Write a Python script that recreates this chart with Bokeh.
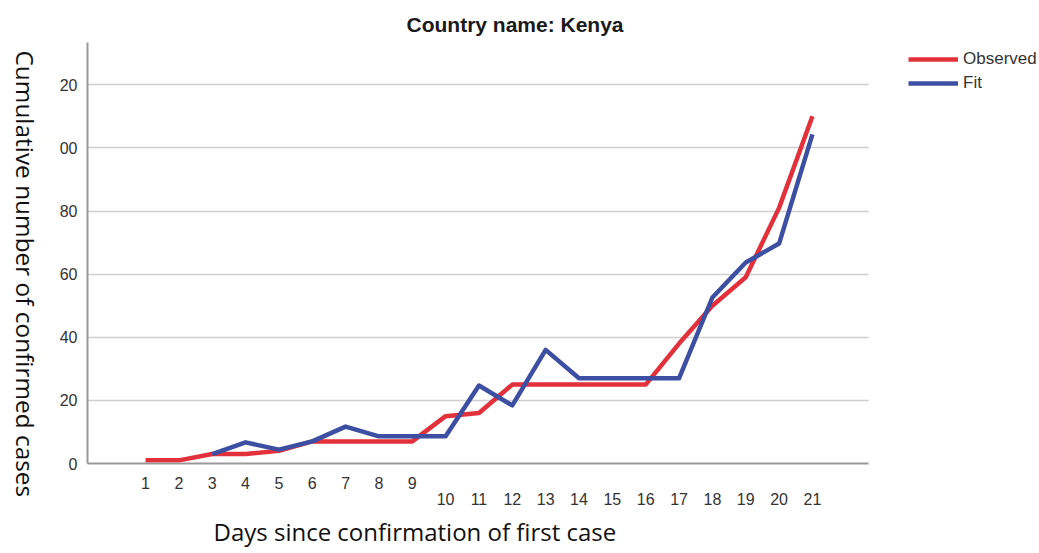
from bokeh.plotting import figure
from bokeh.layouts import row
from bokeh.models import LinearAxis, FixedTicker, Title, Legend, LegendItem, Range1d
from bokeh.embed import file_html
from bokeh.resources import INLINE

# ---- data ----
days = list(range(1, 22))
observed = [1, 1, 3, 3, 4, 7, 7, 7, 7, 15, 16, 25, 25, 25, 25, 25, 38, 50, 59, 81, 110]
fit = [float("nan"), float("nan"), 3, 6.7, 4.4, 7, 11.7, 8.6, 8.6, 8.6, 24.7, 18.4,
       36, 27, 27, 27, 27, 52.6, 63.7, 69.7, 104.3]
y_ticks = [0, 20, 40, 60, 80, 100, 120]
y_tick_labels = ["0", "20", "40", "60", "80", "00", "20"]
x_tick_labels = [str(d) for d in days]
title_text = "Country name: Kenya"
x_label = "Days since confirmation of first case"
y_label = "Cumulative number of confirmed cases"
series_names = ["Observed", "Fit"]

RED = "#e2313a"
BLUE = "#3c4fa3"
TICK_FONT = "Liberation Sans"
LABEL_FONT = "Open Sans"
W_TOTAL, H_TOTAL = 1039, 553
W_LEFT = 43
X_AXIS_START, X_AXIS_END = -0.74, 22.68   # extent of the drawn axis
X_VIEW_END = 27.81                        # room on the right for the legend

# ---- narrow panel holding the vertical y-axis title (reads top to bottom) ----
lf = figure(width=W_LEFT, height=H_TOTAL, output_backend="svg", toolbar_location=None,
            x_axis_location=None, y_axis_location=None,
            min_border_left=0, min_border_right=0, min_border_top=42, min_border_bottom=90)
lf.outline_line_color = None
lf.grid.visible = False
lf.add_layout(Title(text=y_label, align="left", offset=8, text_font=LABEL_FONT,
                    text_font_size="24.4px", text_font_style="normal",
                    text_color="#111111", standoff=0), "right")

# ---- main chart ----
p = figure(width=W_TOTAL - W_LEFT, height=H_TOTAL, output_backend="svg",
           toolbar_location=None,
           x_range=Range1d(X_AXIS_START, X_VIEW_END), y_range=Range1d(0, 133.4),
           min_border_left=87 - W_LEFT, min_border_right=0, min_border_top=42,
           min_border_bottom=90)
p.outline_line_color = None
p.background_fill_color = "white"
p.xgrid.visible = False
p.ygrid.ticker = FixedTicker(ticks=y_ticks[1:])
p.ygrid.grid_line_color = "#cfcfcf"
p.ygrid.grid_line_width = 1.6
try:
    p.ygrid.cross_bounds = (X_AXIS_START, X_AXIS_END)
except AttributeError:
    p.ygrid.visible = False
    gy = y_ticks[1:]
    p.segment(x0=[X_AXIS_START] * len(gy), x1=[X_AXIS_END] * len(gy), y0=gy, y1=gy,
              line_color="#cfcfcf", line_width=1.6)

# y axis
yax = p.yaxis[0]
yax.ticker = FixedTicker(ticks=y_ticks)
yax.major_label_overrides = dict(zip(y_ticks, y_tick_labels))
yax.major_tick_in = 0
yax.major_tick_out = 0
yax.minor_tick_in = 0
yax.minor_tick_out = 0
yax.axis_line_color = "#999999"
yax.axis_line_width = 2
yax.major_label_text_font = TICK_FONT
yax.major_label_text_font_size = "16px"
yax.major_label_text_color = "#333333"
yax.major_label_standoff = 10

# x axis (two staggered rows of labels)
xax = p.xaxis[0]
xax.bounds = (X_AXIS_START, X_AXIS_END)
xax.ticker = FixedTicker(ticks=days[:9])
xax.major_label_overrides = {d: x_tick_labels[i] for i, d in enumerate(days[:9])}
xax.major_tick_in = 0
xax.major_tick_out = 0
xax.minor_tick_in = 0
xax.minor_tick_out = 0
xax.axis_line_color = "#999999"
xax.axis_line_width = 2
xax.major_label_text_font = TICK_FONT
xax.major_label_text_font_size = "16px"
xax.major_label_text_color = "#333333"
xax.major_label_standoff = 13

xax2 = LinearAxis(ticker=FixedTicker(ticks=days[9:]), bounds=(X_AXIS_START, X_AXIS_END),
                  major_label_overrides={d: x_tick_labels[i + 9] for i, d in enumerate(days[9:])})
xax2.axis_line_color = None
xax2.major_tick_in = 0
xax2.major_tick_out = 0
xax2.minor_tick_in = 0
xax2.minor_tick_out = 0
xax2.major_label_text_font = TICK_FONT
xax2.major_label_text_font_size = "16px"
xax2.major_label_text_color = "#333333"
xax2.major_label_standoff = 1
p.add_layout(xax2, "below")

xt = Title(text=x_label, align="left", offset=213 - 87, text_font=LABEL_FONT,
           text_font_size="24px", text_font_style="normal", text_color="#111111",
           standoff=11, text_line_height=1.0)
p.add_layout(xt, "below")

# title
p.title.text = title_text
p.title.align = "left"
p.title.offset = 319
p.title.text_font = TICK_FONT
p.title.text_font_size = "21px"
p.title.text_font_style = "bold"
p.title.text_color = "#1a1a1a"
p.title.standoff = 14

# lines
r_obs = p.line(days, observed, line_color=RED, line_width=4.5, line_join="round")
r_fit = p.line(days, fit, line_color=BLUE, line_width=4.5, line_join="round")

legend = Legend(items=[LegendItem(label=series_names[0], renderers=[r_obs]),
                       LegendItem(label=series_names[1], renderers=[r_fit])],
                location=(821, 368))
legend.background_fill_alpha = 0
legend.border_line_color = None
legend.padding = 0
legend.margin = 0
legend.spacing = 0
legend.label_height = 24
legend.glyph_height = 24
legend.glyph_width = 50
legend.label_standoff = 5
legend.label_text_font = TICK_FONT
legend.label_text_font_size = "17px"
legend.label_text_color = "#333333"
p.add_layout(legend)

layout = row(lf, p)
open("out.html", "w").write(file_html(layout, INLINE))
